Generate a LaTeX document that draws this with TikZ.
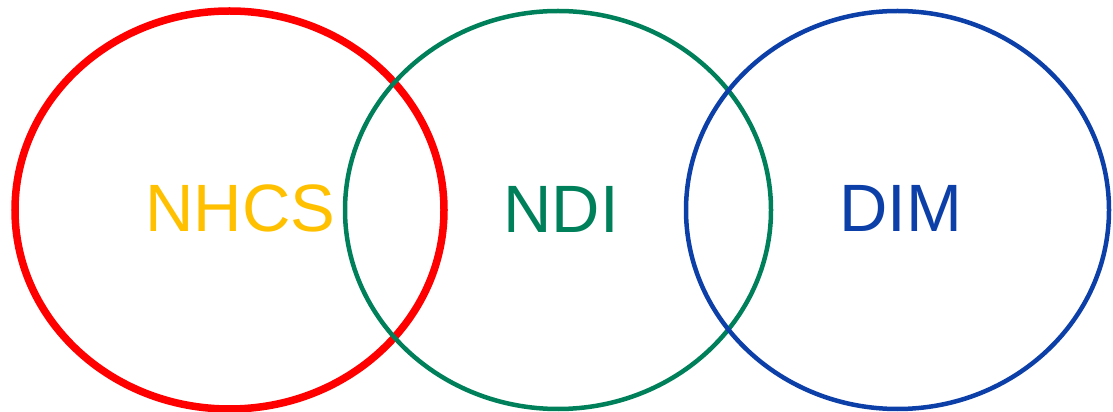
\documentclass[tikz,border=0pt]{standalone}
\usepackage{fontspec}
\setmainfont{Liberation Sans}
\usetikzlibrary{shapes.geometric}
\definecolor{cred}{HTML}{FF0000}
\definecolor{cyel}{HTML}{FFC000}
\definecolor{cgrn}{HTML}{00805A}
\definecolor{cblu}{HTML}{0C40A8}
\begin{document}
\begin{tikzpicture}[x=1pt,y=1pt,
  ring/.style={ellipse,draw,inner sep=0pt,minimum height=398pt},
  lbl/.style={anchor=base,inner sep=0pt,font=\fontsize{67}{67}\selectfont}]
\useasboundingbox (0,0) rectangle (1113,412);
\node[ring,line width=7.5pt,draw=cred,minimum width=429pt] (red) at (229.5,202) {};
\node[ring,line width=4.5pt,draw=cgrn,minimum width=426pt] (green) at (558,202) {};
\node[ring,line width=4.5pt,draw=cblu,minimum width=423pt] (blue) at (897.5,202) {};
\node[lbl,text=cyel] (nhcs) at (240.5,180) {NHCS};
\node[lbl,text=cgrn] (ndi) at (561,179) {NDI};
\node[lbl,text=cblu] (dim) at (901,180) {DIM};
\end{tikzpicture}
\end{document}
